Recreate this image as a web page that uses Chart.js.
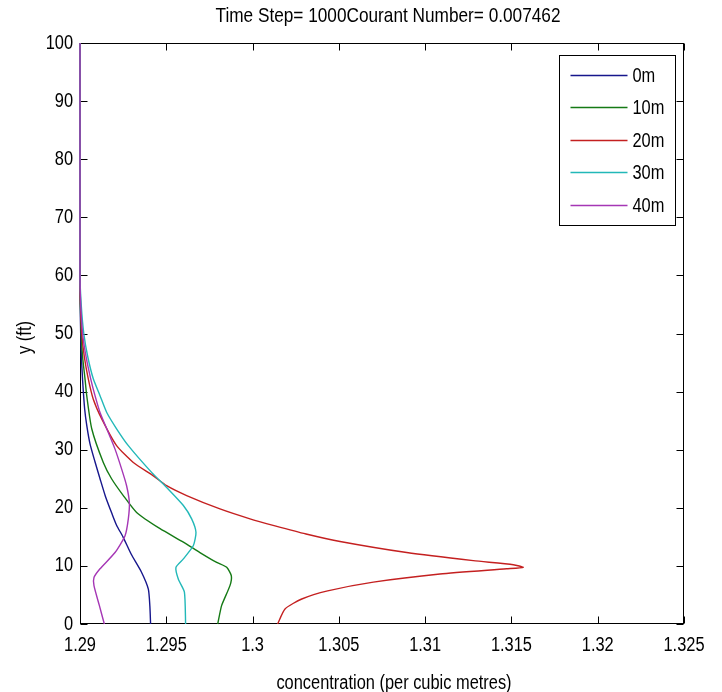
<!DOCTYPE html>
<html>
<head>
<meta charset="utf-8">
<script src="https://cdn.jsdelivr.net/npm/chart.js@4"></script>
<style>
  html, body { margin: 0; padding: 0; background: #fff; }
  canvas { display: block; }
</style>
</head>
<body>
<canvas id="profileChart" width="722" height="692"></canvas>
<script>
const seriesNames = ["0m", "10m", "20m", "30m", "40m"];
const titleText = "Time Step= 1000Courant Number= 0.007462";
const xLabel = "concentration (per cubic metres)";
const yLabel = "y (ft)";

// height (ft) and concentration pairs for each station
const depth0m = [0, 3, 6, 9, 12, 15, 17, 19, 22, 25, 28, 31, 34, 37, 42, 46, 50, 55, 60, 100];
const conc0m = [1.29409, 1.29405, 1.29396, 1.29355, 1.29297, 1.29249, 1.29212, 1.29185, 1.29147, 1.29116,
  1.29086, 1.29058, 1.2904, 1.29027, 1.29015, 1.29008, 1.29004, 1.29001, 1.29, 1.29];

const depth10m = [0, 3.2, 6.6, 8.3, 9.75, 10.6, 12.3, 14.1, 16.4, 19.2, 22.1, 25, 27.8, 33.6, 39.3, 42.2, 46, 50, 55, 60, 100];
const conc10m = [1.29798, 1.29821, 1.29869, 1.29877, 1.2985, 1.29792, 1.29695, 1.29599, 1.29464, 1.29328,
  1.29251, 1.29183, 1.29135, 1.29068, 1.29039, 1.29029, 1.29015, 1.29007, 1.29002, 1.29, 1.29];

const depth20m = [0, 2.6, 4.3, 5.7, 7.2, 8.6, 9.5, 9.75, 10.2, 10.9, 12.3, 14.2, 15.5, 16.9, 18.1, 19.8,
  22.1, 23.8, 25.5, 27.8, 30.7, 35.3, 38.7, 42.2, 46, 50, 55, 60, 100];
const conc20m = [1.30145, 1.30188, 1.30285, 1.30435, 1.307, 1.31086, 1.31472, 1.31568, 1.31511, 1.31279,
  1.30893, 1.30507, 1.3031, 1.3013, 1.29985, 1.29811, 1.29618, 1.29502, 1.29425, 1.29309,
  1.29212, 1.29126, 1.29077, 1.29048, 1.29025, 1.2901, 1.29003, 1.29, 1.29];

const depth30m = [0, 5.5, 7.7, 9.75, 11.2, 13.5, 15.8, 18.1, 20.4, 23.2, 26.1, 30.7, 33.6, 36.4, 39.3, 42.2, 46, 50, 55, 60, 100];
const conc30m = [1.29612, 1.29605, 1.2957, 1.29556, 1.29599, 1.29657, 1.29672, 1.29647, 1.29599, 1.29512,
  1.29415, 1.2928, 1.29212, 1.29155, 1.29116, 1.29077, 1.29045, 1.29022, 1.29007, 1.29, 1.29];

const depth40m = [0, 3.2, 6.6, 8, 9.5, 12.3, 15.2, 18.1, 20.9, 23.8, 26.7, 30.1, 33.6, 36.4, 39.3, 42.2, 46, 50, 55, 60, 100];
const conc40m = [1.29141, 1.29112, 1.29081, 1.29081, 1.29116, 1.29203, 1.29261, 1.2928, 1.29286, 1.2927,
  1.29241, 1.29203, 1.29155, 1.29116, 1.29087, 1.29062, 1.29035, 1.29015, 1.29004, 1.29, 1.29];

const depths = [depth0m, depth10m, depth20m, depth30m, depth40m];
const concs = [conc0m, conc10m, conc20m, conc30m, conc40m];
const lineColors = ["#16168c", "#157a15", "#c42020", "#22b8b8", "#a536b5"];

const FONT = "'Liberation Sans', Arial, sans-serif";
const NARROW = 0.82; // squeeze Arial-metric glyphs into a narrow face

const fmtX = v => parseFloat(v.toFixed(3)).toString();

const datasets = seriesNames.map((name, i) => ({
  label: name,
  data: concs[i].map((c, k) => ({ x: c, y: depths[i][k] })),
  borderColor: lineColors[i],
  backgroundColor: lineColors[i],
  borderWidth: 1.4,
  pointRadius: 0,
  showLine: true,
  tension: 0.2,
  clip: false,
  order: seriesNames.length - 1 - i, // later stations paint on top
}));

function narrowText(ctx, text, x, y, size, align, rotate) {
  ctx.save();
  ctx.translate(x, y);
  if (rotate) ctx.rotate(-Math.PI / 2);
  ctx.scale(NARROW, 1);
  ctx.font = size + "px " + FONT;
  ctx.fillStyle = "#000";
  ctx.textAlign = align;
  ctx.textBaseline = "middle";
  ctx.fillText(text, 0, 0);
  ctx.restore();
}

// box around the axes, inward ticks on all four sides, labels and legend
const axesBox = {
  id: "axesBox",
  beforeDatasetsDraw(chart) {
    const { ctx, chartArea: a, scales } = chart;
    const L = Math.round(a.left) + 0.5, R = Math.round(a.right) - 0.5;
    const T = Math.round(a.top) + 0.5, B = Math.round(a.bottom) - 0.5;
    ctx.save();
    ctx.strokeStyle = "#000";
    ctx.lineWidth = 1;
    ctx.strokeRect(L, T, R - L, B - T);
    ctx.beginPath();
    scales.x.ticks.forEach(t => {
      const px = Math.round(scales.x.getPixelForValue(t.value)) + 0.5;
      ctx.moveTo(px, B); ctx.lineTo(px, B - 7);
      ctx.moveTo(px, T); ctx.lineTo(px, T + 7);
    });
    scales.y.ticks.forEach(t => {
      const py = Math.round(scales.y.getPixelForValue(t.value)) + 0.5;
      ctx.moveTo(L, py); ctx.lineTo(L + 7, py);
      ctx.moveTo(R, py); ctx.lineTo(R - 7, py);
    });
    ctx.stroke();
    ctx.restore();

    scales.x.ticks.forEach(t => {
      narrowText(ctx, fmtX(t.value), scales.x.getPixelForValue(t.value), a.bottom + 21, 20, "center");
    });
    scales.y.ticks.forEach(t => {
      narrowText(ctx, String(t.value), a.left - 7, scales.y.getPixelForValue(t.value), 20, "right");
    });
    const cx = (a.left + a.right) / 2;
    narrowText(ctx, titleText, cx + 6, 16, 21, "center");
    narrowText(ctx, xLabel, cx + 12, a.bottom + 59, 20, "center");
    narrowText(ctx, yLabel, 25, (a.top + a.bottom) / 2 + 4, 20, "center", true);
  },
  afterDatasetsDraw(chart) {
    const { ctx, chartArea: a } = chart;
    const w = 116, h = 170;
    const bx = Math.round(a.right - 9 - w) + 0.5, by = Math.round(a.top + 12) + 0.5;
    ctx.save();
    ctx.fillStyle = "#fff";
    ctx.fillRect(bx, by, w, h);
    ctx.strokeStyle = "#000";
    ctx.lineWidth = 1;
    ctx.strokeRect(bx, by, w, h);
    chart.data.datasets.forEach((ds, i) => {
      const ly = Math.round(by + 19 + i * 32.6) + 0.5;
      ctx.strokeStyle = ds.borderColor;
      ctx.lineWidth = 1.4;
      ctx.beginPath();
      ctx.moveTo(bx + 11, ly);
      ctx.lineTo(bx + 68, ly);
      ctx.stroke();
      narrowText(ctx, ds.label, bx + 73, ly + 1, 20, "left");
    });
    ctx.restore();
  }
};

new Chart(document.getElementById("profileChart"), {
  type: "scatter",
  data: { datasets },
  options: {
    responsive: false,
    animation: false,
    layout: { padding: { left: 0, right: 38, top: 43, bottom: 0 } },
    scales: {
      x: {
        type: "linear",
        min: 1.29,
        max: 1.325,
        grid: { display: false, drawTicks: false },
        border: { display: false },
        ticks: { stepSize: 0.005, display: false, callback: fmtX },
        afterFit(scale) { scale.height = 68; },
      },
      y: {
        type: "linear",
        min: 0,
        max: 100,
        grid: { display: false, drawTicks: false },
        border: { display: false },
        ticks: { stepSize: 10, display: false },
        afterFit(scale) { scale.width = 80; },
      },
    },
    plugins: {
      legend: { display: false },
      tooltip: { enabled: false },
      title: { display: false },
    },
  },
  plugins: [axesBox],
});
</script>
</body>
</html>
